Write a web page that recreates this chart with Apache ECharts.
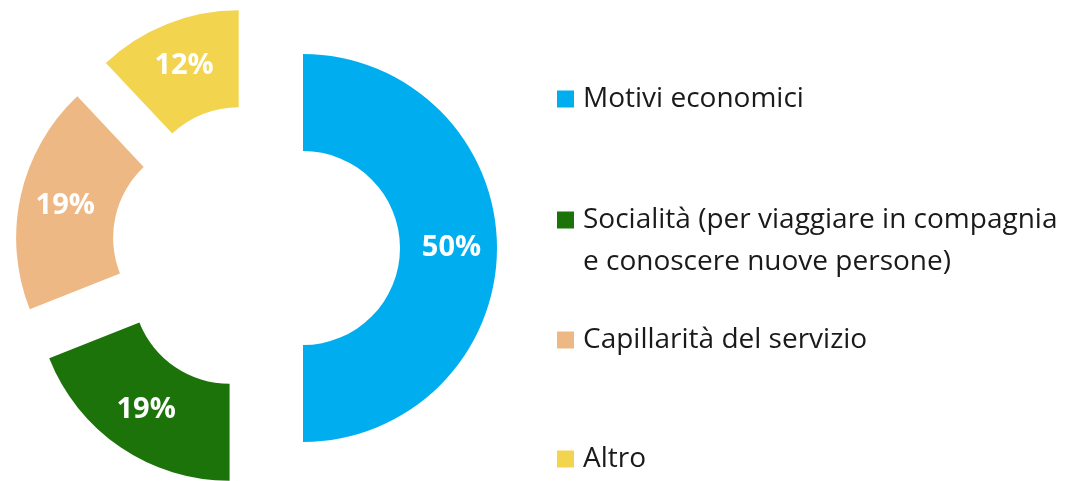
<!DOCTYPE html>
<html>
<head>
<meta charset="utf-8">
<script src="https://cdn.jsdelivr.net/npm/echarts@6/dist/echarts.min.js"></script>
<style>
  html, body { margin: 0; padding: 0; background: #fff; }
  #main { width: 1090px; height: 481px; }
</style>
</head>
<body>
<div id="main"></div>
<script>
var categories = [
    'Motivi economici',
    'Socialità (per viaggiare in compagnia\ne conoscere nuove persone)',
    'Capillarità del servizio',
    'Altro'
];
var values = [50, 19, 19, 12];
var colors = ['#00AEEF', '#1C730A', '#EDB883', '#F3D44F'];
// legend rows are not evenly spaced in the original, one legend per row
var legendTops = [78, 157, 319, 438];

var myChart = echarts.init(document.getElementById('main'));

var legends = categories.map(function (name, i) {
    return {
        data: [name],
        orient: 'vertical',
        left: 557,
        top: legendTops[i],
        padding: 0,
        itemWidth: 17,
        itemHeight: 17,
        icon: 'rect',
        selectedMode: false,
        // multi-line name: empty line on top so the square sits by the first line
        formatter: function (n) {
            return n.indexOf('\n') >= 0 ? ' \n' + n : n;
        },
        textStyle: {
            fontFamily: 'Open Sans',
            fontSize: 28,
            color: '#1a1a1a',
            lineHeight: 42,
            padding: [0, 0, 0, 4]
        }
    };
});

option = {
    backgroundColor: '#fff',
    color: colors,
    legend: legends,
    series: [{
        name: 'Motivi',
        type: 'pie',
        center: [256, 248],
        radius: [97, 194],
        startAngle: 90,
        clockwise: true,
        selectedMode: 'multiple',
        selectedOffset: 47,
        animation: false,
        label: {
            show: true,
            position: 'inside',
            formatter: '{c}%',
            color: '#fff',
            fontFamily: 'Open Sans',
            fontWeight: 'bold',
            fontSize: 29
        },
        labelLine: { show: false },
        emphasis: { disabled: true },
        data: categories.map(function (name, i) {
            return { name: name, value: values[i], selected: true };
        })
    }]
};
myChart.setOption(option);
</script>
</body>
</html>
